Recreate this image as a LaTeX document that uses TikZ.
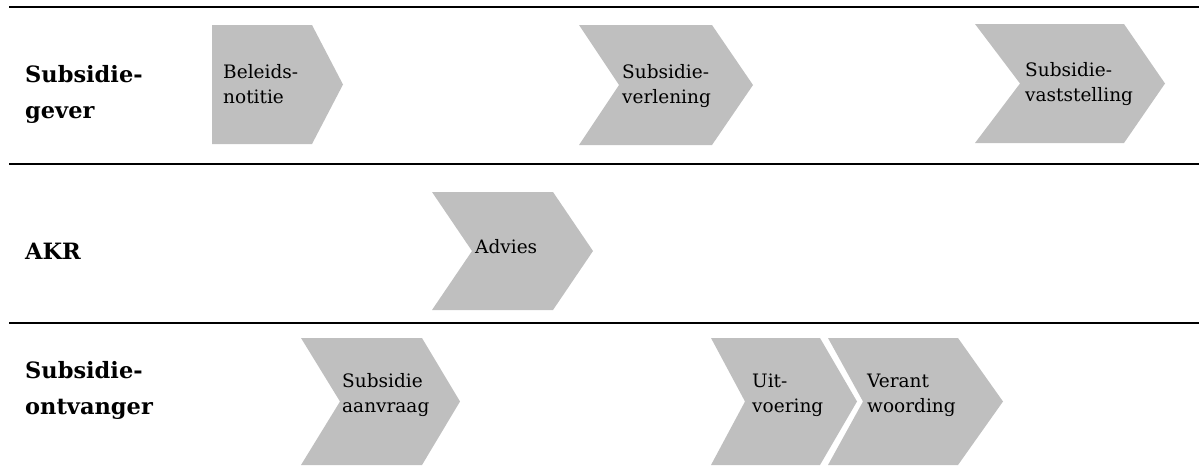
\documentclass[tikz,border=0pt]{standalone}
\usepackage{fontspec}
\setmainfont{DejaVu Serif}
\definecolor{stagegray}{HTML}{BFBFBF}
\newcommand\chevshape[6]{%
  \fill[stagegray] (#1,#3) -- ({#2-#5},#3) -- (#2,{(#3+#4)/2}) -- ({#2-#5},#4) -- (#1,#4) -- ({#1+#6},{(#3+#4)/2}) -- cycle;}
\begin{document}
\begin{tikzpicture}[x=1pt,y=-1pt,
  lane/.style={line width=1.4pt,black},
  lbl/.style={anchor=base west,inner sep=0pt,font=\fontsize{22.5}{36}\selectfont\bfseries},
  txt/.style={anchor=base west,inner sep=0pt,font=\fontsize{18.5}{25}\selectfont}]
\useasboundingbox (0,0) rectangle (1199,475);
% lane separators
\coordinate (l1a) at (9,7);   \coordinate (l1b) at (1199,7);
\coordinate (l2a) at (9,164); \coordinate (l2b) at (1199,164);
\coordinate (l3a) at (9,323); \coordinate (l3b) at (1199,323);
\draw[lane] (l1a) -- (l1b);
\draw[lane] (l2a) -- (l2b);
\draw[lane] (l3a) -- (l3b);
% stages
\chevshape{212}{343}{25}{144}{31}{0}
\chevshape{579}{753}{25}{145}{41}{40}
\chevshape{975}{1165}{24}{143}{41}{45}
\chevshape{432}{593}{192}{310}{40}{40}
\chevshape{301}{460}{338}{465}{38}{39}
\chevshape{711}{857}{338}{465}{37}{34}
\chevshape{828}{1003}{338}{465}{45}{35}
% row labels
\node[lbl] (rgever) at (25,82) {\begin{tabular}[t]{@{}l@{}}Subsidie-\\gever\end{tabular}};
\node[lbl] (rakr) at (25,259) {AKR};
\node[lbl] (rontv) at (25,378) {\begin{tabular}[t]{@{}l@{}}Subsidie-\\ontvanger\end{tabular}};
% stage texts
\node[txt] (tbel) at (223,78) {\begin{tabular}[t]{@{}l@{}}Beleids-\\notitie\end{tabular}};
\node[txt] (tverl) at (622,78) {\begin{tabular}[t]{@{}l@{}}Subsidie-\\verlening\end{tabular}};
\node[txt] (tvast) at (1025,76) {\begin{tabular}[t]{@{}l@{}}Subsidie-\\vaststelling\end{tabular}};
\node[txt] (tadv) at (475,253) {Advies};
\node[txt] (taanv) at (342,387) {\begin{tabular}[t]{@{}l@{}}Subsidie\\aanvraag\end{tabular}};
\node[txt] (tuit) at (752,387) {\begin{tabular}[t]{@{}l@{}}Uit-\\voering\end{tabular}};
\node[txt] (tver) at (867,387) {\begin{tabular}[t]{@{}l@{}}Verant\\woording\end{tabular}};
\end{tikzpicture}
\end{document}
